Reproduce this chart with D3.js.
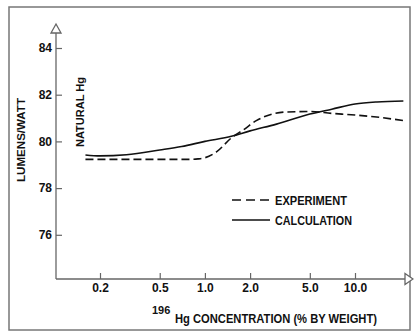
<!DOCTYPE html>
<html>
<head>
<meta charset="utf-8">
<script src="https://d3js.org/d3.v7.min.js"></script>
<style>
  body { margin: 0; background: #fff; }
  text { font-family: "Liberation Sans", Arial, sans-serif; font-weight: bold; fill: #111; }
</style>
</head>
<body>
<div id="chart"></div>
<script>
// data
var xTicks = [0.2, 0.5, 1.0, 2.0, 5.0, 10.0];
var yTicks = [76, 78, 80, 82, 84];

var concCalc = [0.16, 0.2, 0.3, 0.5, 0.7, 1.0, 1.5, 2.0, 3.0, 5.0, 7.0, 10.0, 14.0, 21.0];
var lumCalc  = [79.42, 79.38, 79.43, 79.63, 79.78, 80.0, 80.22, 80.45, 80.74, 81.17, 81.38, 81.6, 81.69, 81.73];

var concExp = [0.16, 0.3, 0.5, 0.8, 0.9, 1.0, 1.2, 1.5, 1.8, 2.2, 2.8, 3.5, 5.0, 7.0, 10.0, 15.0, 21.0];
var lumExp  = [79.23, 79.23, 79.23, 79.23, 79.25, 79.3, 79.56, 80.15, 80.49, 80.89, 81.17, 81.26, 81.28, 81.2, 81.13, 81.02, 80.89];

var w = 414, h = 332;

var svg = d3.select("#chart")
    .append("svg")
    .attr("width", w)
    .attr("height", h);

// frame
svg.append("rect")
    .attr("x", 9).attr("y", 7)
    .attr("width", 401).attr("height", 323)
    .attr("fill", "none")
    .attr("stroke", "#777")
    .attr("stroke-width", 1.5);

var x = d3.scaleLog().domain([0.2, 10]).range([100, 355]);
var y = d3.scaleLinear().domain([76, 84]).range([234.8, 48]);

var axisColor = "#666";

// axis lines + open arrow heads
svg.append("line")
    .attr("x1", 56).attr("y1", 279).attr("x2", 56).attr("y2", 33)
    .attr("stroke", axisColor).attr("stroke-width", 1.3);
svg.append("line")
    .attr("x1", 56).attr("y1", 279).attr("x2", 405).attr("y2", 279)
    .attr("stroke", axisColor).attr("stroke-width", 1.3);
svg.append("path")
    .attr("d", "M56,24L61,33L51,33Z")
    .attr("fill", "#fff").attr("stroke", axisColor).attr("stroke-width", 1.3);
svg.append("path")
    .attr("d", "M413,279L405,273.5L405,284.5Z")
    .attr("fill", "#fff").attr("stroke", axisColor).attr("stroke-width", 1.3);

var yAxis = svg.append("g")
    .attr("transform", "translate(56,0)")
    .call(d3.axisLeft(y).tickValues(yTicks).tickSize(-6).tickPadding(4));
yAxis.select(".domain").remove();
yAxis.selectAll("line").attr("stroke", axisColor).attr("stroke-width", 1.2);
yAxis.selectAll("text")
    .attr("font-size", 12)
    .style("font-family", "Liberation Sans, Arial, sans-serif")
    .style("font-weight", "bold")
    .attr("fill", "#111");

var xAxis = svg.append("g")
    .attr("transform", "translate(0,279)")
    .call(d3.axisBottom(x).tickValues(xTicks).tickFormat(d3.format(".1f")).tickSize(-6).tickPadding(4));
xAxis.select(".domain").remove();
xAxis.selectAll("line").attr("stroke", axisColor).attr("stroke-width", 1.2);
xAxis.selectAll("text")
    .attr("font-size", 12)
    .style("font-family", "Liberation Sans, Arial, sans-serif")
    .style("font-weight", "bold")
    .attr("fill", "#111");

// curves
var line = d3.line()
    .x(function(d) { return x(d[0]); })
    .y(function(d) { return y(d[1]); })
    .curve(d3.curveMonotoneX);

svg.append("path")
    .datum(d3.zip(concCalc, lumCalc))
    .attr("d", line)
    .attr("fill", "none")
    .attr("stroke", "#111")
    .attr("stroke-width", 1.6);

svg.append("path")
    .datum(d3.zip(concExp, lumExp))
    .attr("d", line)
    .attr("fill", "none")
    .attr("stroke", "#111")
    .attr("stroke-width", 1.6)
    .attr("stroke-dasharray", "8,4");

// legend
svg.append("line")
    .attr("x1", 232).attr("y1", 200).attr("x2", 270).attr("y2", 200)
    .attr("stroke", "#111").attr("stroke-width", 1.5)
    .attr("stroke-dasharray", "9,5");
svg.append("line")
    .attr("x1", 232).attr("y1", 220).attr("x2", 270).attr("y2", 220)
    .attr("stroke", "#111").attr("stroke-width", 1.5);
svg.append("text")
    .attr("x", 275).attr("y", 204.5)
    .attr("font-size", 12.5)
    .attr("textLength", 72).attr("lengthAdjust", "spacingAndGlyphs")
    .text("EXPERIMENT");
svg.append("text")
    .attr("x", 275).attr("y", 224.5)
    .attr("font-size", 12.5)
    .attr("textLength", 77).attr("lengthAdjust", "spacingAndGlyphs")
    .text("CALCULATION");

// axis titles
svg.append("text")
    .attr("transform", "translate(24.5,140) rotate(-90)")
    .attr("text-anchor", "middle")
    .attr("font-size", 11.5)
    .attr("textLength", 84).attr("lengthAdjust", "spacingAndGlyphs")
    .text("LUMENS/WATT");

svg.append("text")
    .attr("transform", "translate(83.5,112) rotate(-90)")
    .attr("text-anchor", "middle")
    .attr("font-size", 11.5)
    .attr("textLength", 70).attr("lengthAdjust", "spacingAndGlyphs")
    .text("NATURAL Hg");

svg.append("text")
    .attr("x", 152).attr("y", 314)
    .attr("font-size", 11)
    .text("196");
svg.append("text")
    .attr("x", 175).attr("y", 322.5)
    .attr("font-size", 12.5)
    .attr("textLength", 202).attr("lengthAdjust", "spacingAndGlyphs")
    .text("Hg CONCENTRATION (% BY WEIGHT)");
</script>
</body>
</html>
